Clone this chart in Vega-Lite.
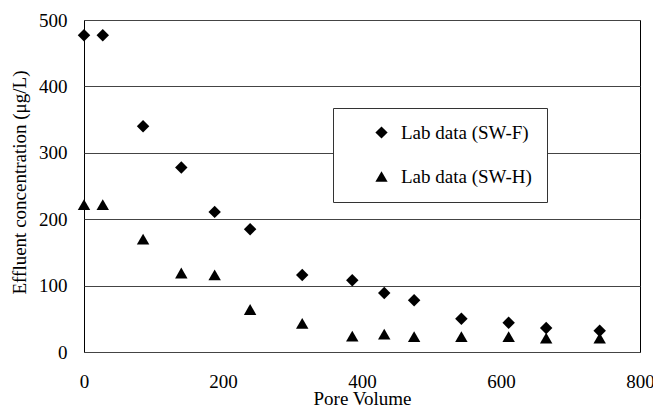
{
  "$schema": "https://vega.github.io/schema/vega-lite/v6.json",
  "autosize": {"type": "none"},
  "padding": {"left": 84, "top": 20, "right": 13, "bottom": 56},
  "width": 556,
  "height": 332,
  "background": "white",
  "config": {
    "font": "Liberation Serif",
    "view": {"stroke": "#000000", "strokeWidth": 1},
    "axis": {"labelFont": "Liberation Serif", "titleFont": "Liberation Serif", "labelColor": "#000", "titleColor": "#000", "titleFontWeight": "normal", "labelFontSize": 19, "titleFontSize": 19}
  },
  "data": {
    "values": [
      {"pv": 0, "conc": 477, "series": "Lab data (SW-F)"},
      {"pv": 27, "conc": 477, "series": "Lab data (SW-F)"},
      {"pv": 85, "conc": 340, "series": "Lab data (SW-F)"},
      {"pv": 140, "conc": 278, "series": "Lab data (SW-F)"},
      {"pv": 188, "conc": 211, "series": "Lab data (SW-F)"},
      {"pv": 239, "conc": 185, "series": "Lab data (SW-F)"},
      {"pv": 314, "conc": 116, "series": "Lab data (SW-F)"},
      {"pv": 386, "conc": 108, "series": "Lab data (SW-F)"},
      {"pv": 432, "conc": 89, "series": "Lab data (SW-F)"},
      {"pv": 475, "conc": 78, "series": "Lab data (SW-F)"},
      {"pv": 543, "conc": 50, "series": "Lab data (SW-F)"},
      {"pv": 611, "conc": 44, "series": "Lab data (SW-F)"},
      {"pv": 665, "conc": 36, "series": "Lab data (SW-F)"},
      {"pv": 742, "conc": 32, "series": "Lab data (SW-F)"},
      {"pv": 0, "conc": 222, "series": "Lab data (SW-H)"},
      {"pv": 27, "conc": 222, "series": "Lab data (SW-H)"},
      {"pv": 85, "conc": 170, "series": "Lab data (SW-H)"},
      {"pv": 140, "conc": 119, "series": "Lab data (SW-H)"},
      {"pv": 188, "conc": 116, "series": "Lab data (SW-H)"},
      {"pv": 239, "conc": 64, "series": "Lab data (SW-H)"},
      {"pv": 314, "conc": 43, "series": "Lab data (SW-H)"},
      {"pv": 386, "conc": 24, "series": "Lab data (SW-H)"},
      {"pv": 432, "conc": 27, "series": "Lab data (SW-H)"},
      {"pv": 475, "conc": 23, "series": "Lab data (SW-H)"},
      {"pv": 543, "conc": 23, "series": "Lab data (SW-H)"},
      {"pv": 611, "conc": 23, "series": "Lab data (SW-H)"},
      {"pv": 665, "conc": 21, "series": "Lab data (SW-H)"},
      {"pv": 742, "conc": 21, "series": "Lab data (SW-H)"}
    ]
  },
  "mark": {"type": "point", "filled": true, "opacity": 1, "size": 155, "color": "#000"},
  "encoding": {
    "x": {
      "field": "pv", "type": "quantitative",
      "scale": {"domain": [0, 800], "nice": false},
      "axis": {"title": "Pore Volume", "values": [0, 200, 400, 600, 800], "grid": false, "ticks": false, "domain": false, "labelPadding": 20, "titleY": 52, "titleBaseline": "alphabetic", "labelFlush": false, "labelFont": "Liberation Serif", "titleFont": "Liberation Serif"}
    },
    "y": {
      "field": "conc", "type": "quantitative",
      "scale": {"domain": [0, 500], "nice": false},
      "axis": {"title": "Effluent concentration (μg/L)", "values": [0, 100, 200, 300, 400, 500], "grid": true, "gridColor": "#444", "gridOpacity": 1, "gridWidth": 1, "ticks": false, "domain": false, "labelPadding": 17, "titleX": -59, "titleY": 162, "titleAngle": -90, "titleAlign": "center", "titleBaseline": "alphabetic", "labelFlush": false, "labelFont": "Liberation Serif", "titleFont": "Liberation Serif"}
    },
    "shape": {
      "field": "series", "type": "nominal",
      "scale": {"domain": ["Lab data (SW-F)", "Lab data (SW-H)"], "range": ["diamond", "triangle-up"]},
      "legend": {
        "title": null, "orient": "none", "legendX": 249, "legendY": 88,
        "fillColor": "white", "strokeColor": "#333", "padding": 15,
        "rowPadding": 24, "symbolSize": 150, "symbolFillColor": "#000", "symbolStrokeColor": "#000", "symbolStrokeWidth": 0,
        "symbolOffset": 24, "labelOffset": 10,
        "labelFont": "Liberation Serif", "labelFontSize": 19, "labelColor": "#000", "labelLimit": 400,
        "labelExpr": "datum.label + '     '"
      }
    }
  }
}
